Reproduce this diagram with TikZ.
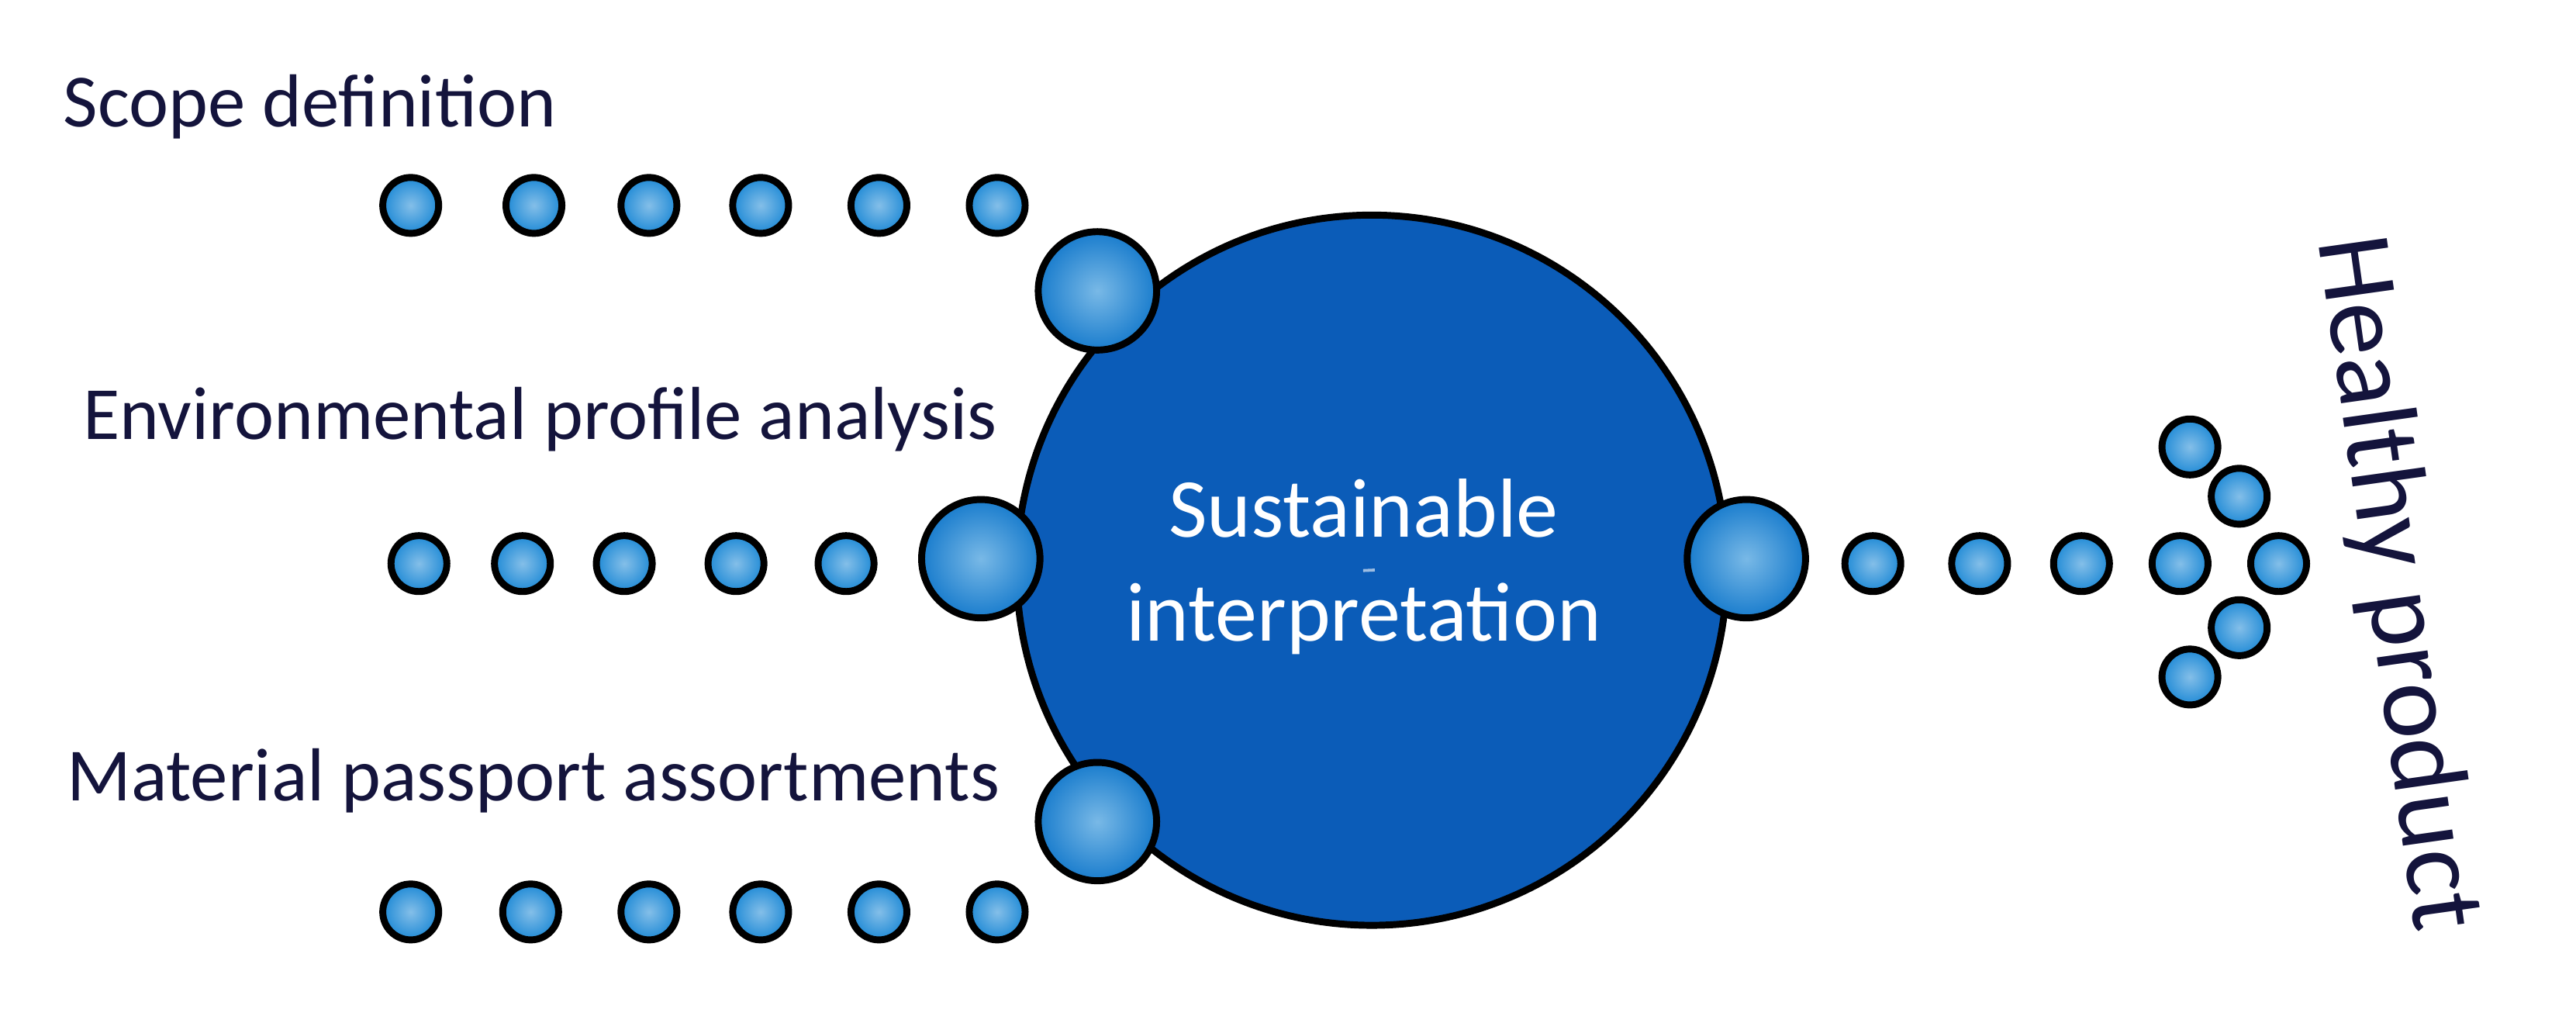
\documentclass[tikz,border=0pt]{standalone}
\usepackage{fontspec}
\setmainfont{Carlito}
\begin{document}
\definecolor{dotblue}{HTML}{1F8AD6}
\definecolor{mainblue}{HTML}{0B5CB8}
\definecolor{textnavy}{HTML}{14143C}
\begin{tikzpicture}[x=0.01cm,y=-0.01cm,
 dot/.style={circle,inner sep=0,draw=black,line width=1.2pt,inner color=dotblue!55!white,outer color=dotblue,minimum size=0.34cm},
 bub/.style={circle,inner sep=0,draw=black,line width=1.2pt,inner color=dotblue!60!white,outer color=dotblue!70!mainblue,minimum size=0.72cm},
 lab/.style={font=\fontsize{13}{15}\selectfont,text=textnavy,anchor=west,inner sep=0}]
\useasboundingbox (0,0) rectangle (1568,614);
\node[circle,minimum size=4.32cm,draw=black,line width=1.2pt,fill=mainblue,inner sep=0] (main) at (835,347) {};
\draw[white,opacity=0.6,line width=2pt] (main.center) ++(150:1.95) arc (150:205:1.95);
\node[text=white,align=center,font=\fontsize{14.5}{18}\selectfont] (mt) at (830,345) {Sustainable\\interpretation};
\node[lab] (l1) at (38,65) {Scope definition};
\node[lab] (l2) at (50,255) {Environmental profile analysis};
\node[lab] (l3) at (40,475) {Material passport assortments};
\foreach \x [count=\i] in {250,325,395,463,535,607}{\node[dot] (a\i) at (\x,125) {};}
\foreach \x [count=\i] in {255,318,380,448,515}{\node[dot] (b\i) at (\x,343) {};}
\foreach \x [count=\i] in {250,323,395,463,535,607}{\node[dot] (c\i) at (\x,555) {};}
\node[bub] (ba) at (668,177) {};
\node[bub] (bb) at (597,340) {};
\node[bub] (bc) at (668,500) {};
\node[bub] (bd) at (1063,340) {};
\foreach \x [count=\i] in {1140,1205,1267,1327}{\node[dot] (d\i) at (\x,343) {};}
\node[dot] (e1) at (1333,272) {};
\node[dot] (e2) at (1363,302) {};
\node[dot] (e3) at (1387,343) {};
\node[dot] (e4) at (1363,382) {};
\node[dot] (e5) at (1333,412) {};
\node[font=\fontsize{18.5}{20}\selectfont,text=textnavy,rotate=-82] (hp) at (1458,355) {Healthy product};
\end{tikzpicture}
\end{document}
